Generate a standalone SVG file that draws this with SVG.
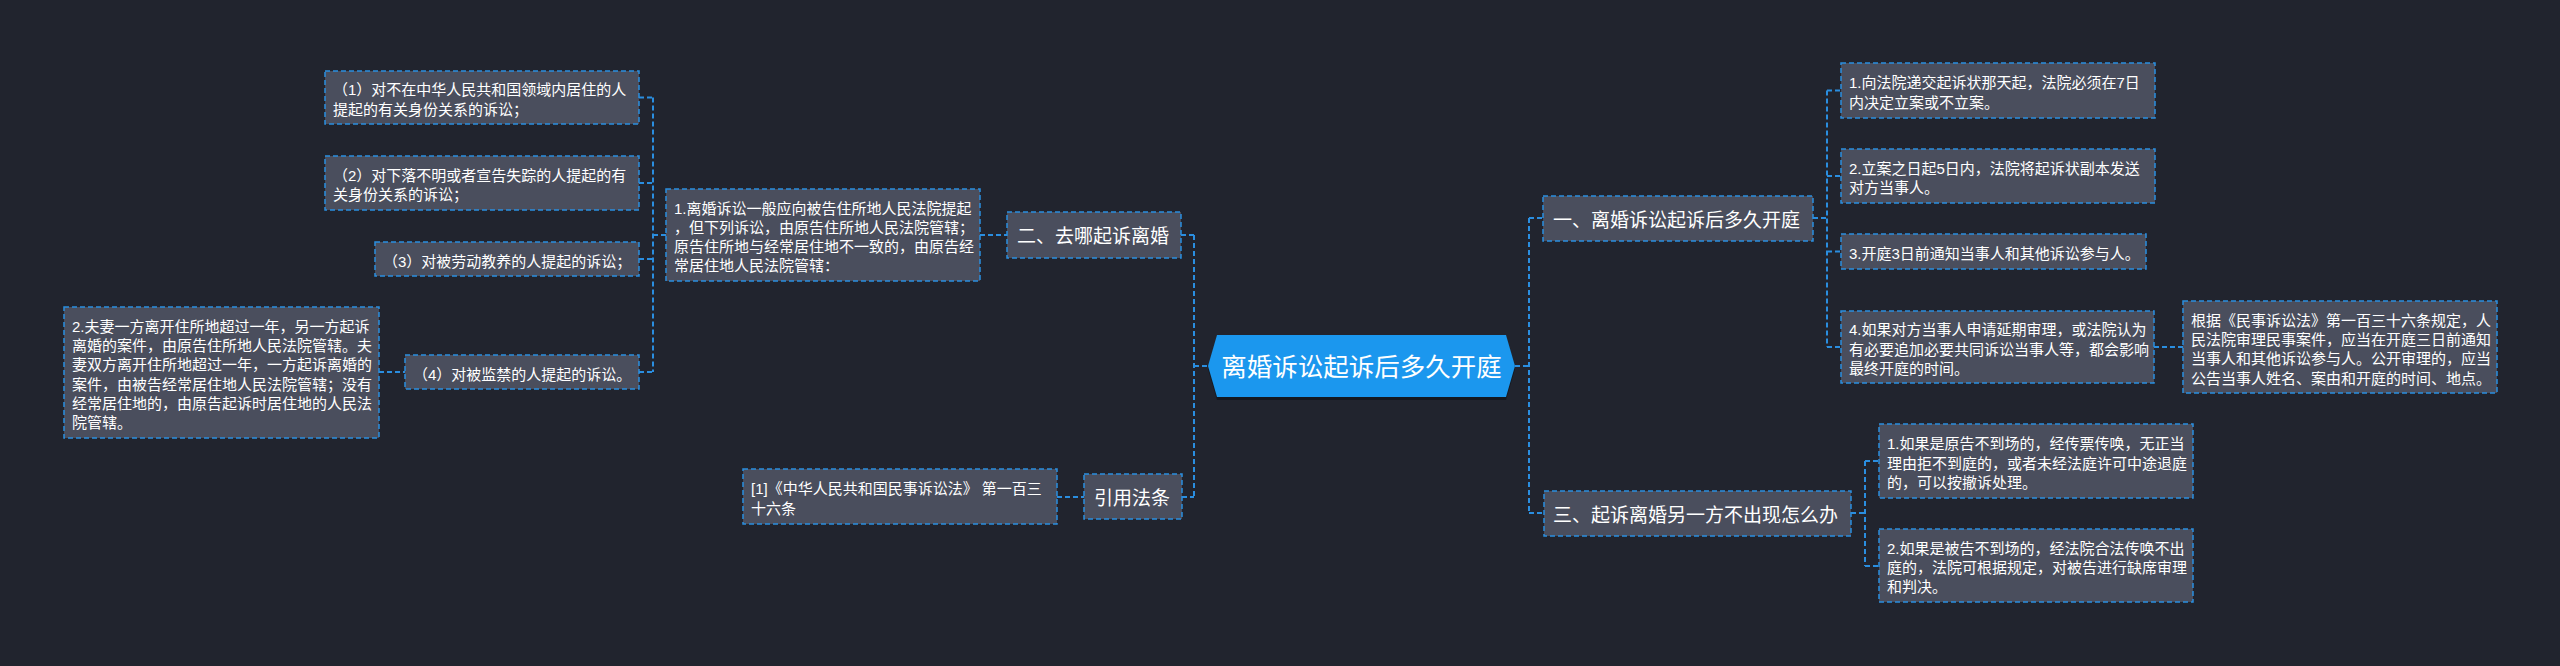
<svg xmlns="http://www.w3.org/2000/svg" width="2560" height="666" viewBox="0 0 2560 666">
<style>
.bg{fill:#21242e}
.n{fill:#4a4e5d;stroke:#2a8ee0;stroke-width:1.5;stroke-dasharray:5 3}
.c{fill:none;stroke:#2a8ee0;stroke-width:2;stroke-dasharray:5 3}
.t{font-family:"Liberation Sans","Noto Sans CJK SC",sans-serif;font-size:15px;fill:#ffffff}
.s{font-family:"Liberation Sans","Noto Sans CJK SC",sans-serif;font-size:19px;fill:#ffffff}
.r{font-family:"Liberation Sans","Noto Sans CJK SC",sans-serif;font-size:25.5px;fill:#ffffff}
</style>
<rect class="bg" x="0" y="0" width="2560" height="666"/>

<g id="connectors">
<path class="c" d="M639 97.5H653M639 183H653M639 259H653M639 372H653M653 97.5V372M653 235H666M379 372H405"/>
<path class="c" d="M980 235H1007M1181 235H1194M1194 235V497M1194 366H1208M1182 497H1194M1057 497H1084"/>
<path class="c" d="M1515 366H1529M1529 218V513M1529 218H1543M1529 513H1544M1813 218H1827M1827 90.5V347M1827 90.5H1841M1827 176H1841M1827 251.5H1841M1827 347H1841M2154 347H2183"/>
<path class="c" d="M1851 513H1865M1865 461V566M1865 461H1879M1865 566H1879"/>
</g>

<g id="root">
<polygon points="1208,369 1217,338 1506,338 1515,369 1506,400 1217,400" fill="#12151c" opacity="0.8"/>
<polygon points="1208,366 1217,335 1506,335 1515,366 1506,397 1217,397" fill="#1b97ee"/>
<text class="r" x="1361.5" y="376" text-anchor="middle">离婚诉讼起诉后多久开庭</text>
</g>

<g id="n-er">
<rect class="n" x="1007" y="212" width="174" height="46"/>
<text class="s" x="1017" y="243.2">二、去哪起诉离婚</text>
</g>

<g id="n-er-1">
<rect class="n" x="666" y="189" width="314" height="92"/>
<text class="t" x="674"><tspan x="674" y="213.5">1.离婚诉讼一般应向被告住所地人民法院提起</tspan><tspan x="674" y="232.8">，但下列诉讼，由原告住所地人民法院管辖；</tspan><tspan x="674" y="252.1">原告住所地与经常居住地不一致的，由原告经</tspan><tspan x="674" y="271.4">常居住地人民法院管辖：</tspan></text>
</g>

<g id="n-l1">
<rect class="n" x="325" y="71" width="314" height="53"/>
<text class="t"><tspan x="333" y="95.4">（1）对不在中华人民共和国领域内居住的人</tspan><tspan x="333" y="114.7">提起的有关身份关系的诉讼；</tspan></text>
</g>

<g id="n-l2">
<rect class="n" x="325" y="156" width="314" height="54"/>
<text class="t"><tspan x="333" y="180.9">（2）对下落不明或者宣告失踪的人提起的有</tspan><tspan x="333" y="200.2">关身份关系的诉讼；</tspan></text>
</g>

<g id="n-l3">
<rect class="n" x="375" y="242" width="264" height="34"/>
<text class="t" x="383" y="266.5">（3）对被劳动教养的人提起的诉讼；</text>
</g>

<g id="n-l4">
<rect class="n" x="405" y="355" width="234" height="34"/>
<text class="t" x="413" y="379.5">（4）对被监禁的人提起的诉讼。</text>
</g>

<g id="n-l4-1">
<rect class="n" x="64" y="307" width="315" height="131"/>
<text class="t"><tspan x="72" y="331.8">2.夫妻一方离开住所地超过一年，另一方起诉</tspan><tspan x="72" y="351.1">离婚的案件，由原告住所地人民法院管辖。夫</tspan><tspan x="72" y="370.4">妻双方离开住所地超过一年，一方起诉离婚的</tspan><tspan x="72" y="389.7">案件，由被告经常居住地人民法院管辖；没有</tspan><tspan x="72" y="409">经常居住地的，由原告起诉时居住地的人民法</tspan><tspan x="72" y="428.3">院管辖。</tspan></text>
</g>

<g id="n-ref">
<rect class="n" x="1084" y="474" width="98" height="45"/>
<text class="s" x="1094" y="504.7">引用法条</text>
</g>

<g id="n-ref-1">
<rect class="n" x="743" y="469" width="314" height="55"/>
<text class="t"><tspan x="751" y="494.4">[1]《中华人民共和国民事诉讼法》 第一百三</tspan><tspan x="751" y="513.7">十六条</tspan></text>
</g>

<g id="n-yi">
<rect class="n" x="1543" y="196" width="270" height="45"/>
<text class="s" x="1553" y="226.7">一、离婚诉讼起诉后多久开庭</text>
</g>

<g id="n-yi-1">
<rect class="n" x="1841" y="63" width="314" height="55"/>
<text class="t"><tspan x="1849" y="88.4">1.向法院递交起诉状那天起，法院必须在7日</tspan><tspan x="1849" y="107.7">内决定立案或不立案。</tspan></text>
</g>

<g id="n-yi-2">
<rect class="n" x="1841" y="149" width="314" height="54"/>
<text class="t"><tspan x="1849" y="173.9">2.立案之日起5日内，法院将起诉状副本发送</tspan><tspan x="1849" y="193.2">对方当事人。</tspan></text>
</g>

<g id="n-yi-3">
<rect class="n" x="1841" y="234" width="305" height="35"/>
<text class="t" x="1849" y="259">3.开庭3日前通知当事人和其他诉讼参与人。</text>
</g>

<g id="n-yi-4">
<rect class="n" x="1841" y="311" width="313" height="72"/>
<text class="t"><tspan x="1849" y="335.2">4.如果对方当事人申请延期审理，或法院认为</tspan><tspan x="1849" y="354.5">有必要追加必要共同诉讼当事人等，都会影响</tspan><tspan x="1849" y="373.8">最终开庭的时间。</tspan></text>
</g>

<g id="n-yi-4-1">
<rect class="n" x="2183" y="301" width="314" height="92"/>
<text class="t"><tspan x="2191" y="325.6">根据《民事诉讼法》第一百三十六条规定，人</tspan><tspan x="2191" y="344.9">民法院审理民事案件，应当在开庭三日前通知</tspan><tspan x="2191" y="364.2">当事人和其他诉讼参与人。公开审理的，应当</tspan><tspan x="2191" y="383.5">公告当事人姓名、案由和开庭的时间、地点。</tspan></text>
</g>

<g id="n-san">
<rect class="n" x="1544" y="491" width="307" height="45"/>
<text class="s" x="1553" y="521.7">三、起诉离婚另一方不出现怎么办</text>
</g>

<g id="n-san-1">
<rect class="n" x="1879" y="424" width="314" height="74"/>
<text class="t"><tspan x="1887" y="449.2">1.如果是原告不到场的，经传票传唤，无正当</tspan><tspan x="1887" y="468.5">理由拒不到庭的，或者未经法庭许可中途退庭</tspan><tspan x="1887" y="487.8">的，可以按撤诉处理。</tspan></text>
</g>

<g id="n-san-2">
<rect class="n" x="1879" y="529" width="314" height="73"/>
<text class="t"><tspan x="1887" y="553.7">2.如果是被告不到场的，经法院合法传唤不出</tspan><tspan x="1887" y="573">庭的，法院可根据规定，对被告进行缺席审理</tspan><tspan x="1887" y="592.3">和判决。</tspan></text>
</g>
</svg>
